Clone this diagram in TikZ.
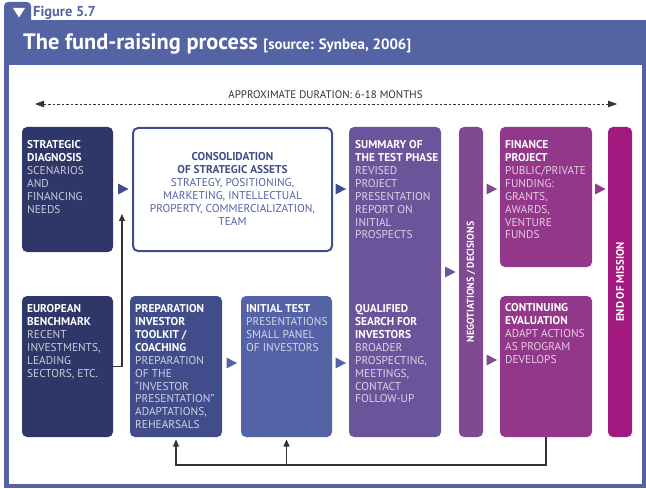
\documentclass[tikz,border=0pt]{standalone}
\usepackage{fontspec}
\setmainfont{PT Sans}
\usetikzlibrary{arrows.meta,calc}
\definecolor{hdr}{RGB}{84,99,164}
\definecolor{navy}{RGB}{47,54,104}
\definecolor{bluemid}{RGB}{65,76,138}
\definecolor{bluelt}{RGB}{84,98,166}
\definecolor{violet}{RGB}{107,84,153}
\definecolor{plum}{RGB}{128,73,146}
\definecolor{orchid}{RGB}{147,55,138}
\definecolor{magentab}{RGB}{162,25,127}
\definecolor{linegray}{RGB}{51,51,51}
\newcommand\hd[1]{\textcolor{white}{\textbf{#1}}}
\newcommand\rtri[2]{\fill[#2] ($(#1)+(-5,-5.5)$) -- ($(#1)+(5.5,0)$) -- ($(#1)+(-5,5.5)$) -- cycle;}
\begin{document}
\begin{tikzpicture}[x=1bp,y=-1bp,
  card/.style={rounded corners=5bp, inner sep=0pt, outer sep=0pt, anchor=north west},
  txt/.style={inner sep=0pt, anchor=north west, align=left, font=\fontsize{11.4}{13}\selectfont},
  fb/.style={draw=linegray, line width=1.1bp, -{Triangle[length=7bp,width=6bp]}},
  vtxt/.style={rotate=90, inner sep=0pt, text=white, font=\fontsize{10}{10}\selectfont\bfseries}
]
\useasboundingbox (0,0) rectangle (646,489);
% frame
\fill[hdr] (4,20) rectangle (646,488);
\fill[white] (9,65) rectangle (642,484);
\fill[hdr, rounded corners=4bp] (4,28) -- (4,2) -- (31,2) -- (31,28) -- cycle;
\fill[white] (13,8) -- (25,8) -- (19,17.5) -- cycle;
\node[anchor=base west, inner sep=0pt, text=hdr, font=\fontsize{14.5}{14.5}\selectfont\bfseries] (fig) at (33,17) {Figure 5.7};
\node[anchor=base west, inner sep=0pt, text=white, font=\fontsize{22.4}{22.4}\selectfont\bfseries] (title) at (23,50) {The fund-raising process {\fontsize{15}{15}\selectfont [source: Synbea, 2006]}};
% duration
\node[anchor=base, inner sep=0pt, text=linegray, font=\fontsize{11}{12}\selectfont] (dur) at (325.5,99) {APPROXIMATE DURATION: 6-18 MONTHS};
\coordinate (dL) at (35,104);
\coordinate (dR) at (617,104);
\draw[linegray, line width=0.8bp, dash pattern=on 2.5bp off 2bp, {Triangle[length=9bp,width=6.5bp]}-{Triangle[length=9bp,width=6.5bp]}] (dL) -- (dR);
% boxes
\node[card, fill=navy, minimum width=91bp, minimum height=125bp] (sd) at (22,127) {};
\node[card, fill=white, draw=bluemid, line width=2bp, minimum width=199bp, minimum height=123bp] (cons) at (133,128) {};
\node[card, fill=violet, minimum width=92bp, minimum height=310bp] (sum) at (349,127) {};
\node[card, fill=plum, minimum width=24bp, minimum height=310bp] (neg) at (459,127) {};
\node[card, fill=orchid, minimum width=92bp, minimum height=140bp] (fin) at (500,127) {};
\node[card, fill=magentab, minimum width=24bp, minimum height=310bp] (end) at (608,127) {};
\node[card, fill=navy, minimum width=91bp, minimum height=141bp] (eu) at (22,296) {};
\node[card, fill=bluemid, minimum width=92bp, minimum height=141bp] (prep) at (130,296) {};
\node[card, fill=bluelt, minimum width=91bp, minimum height=141bp] (init) at (241,296) {};
\node[card, fill=orchid, minimum width=92bp, minimum height=141bp] (cont) at (500,296) {};
% texts
\node[txt, text=white!75!navy] (sdT) at (27,140) {\hd{STRATEGIC}\\\hd{DIAGNOSIS}\\SCENARIOS\\AND\\FINANCING\\NEEDS};
\node[txt, anchor=north, align=center, text=bluelt] (consT) at (232.5,152) {\textcolor{bluemid}{\textbf{CONSOLIDATION}}\\\textcolor{bluemid}{\textbf{OF STRATEGIC ASSETS}}\\STRATEGY, POSITIONING,\\MARKETING, INTELLECTUAL\\PROPERTY, COMMERCIALIZATION,\\TEAM};
\node[txt, text=white!75!violet] (sumT) at (355,140) {\hd{SUMMARY OF}\\\hd{THE TEST PHASE}\\REVISED\\PROJECT\\PRESENTATION\\REPORT ON\\INITIAL\\PROSPECTS};
\node[txt, text=white!75!violet] (qualT) at (355,304) {\hd{QUALIFIED}\\\hd{SEARCH FOR}\\\hd{INVESTORS}\\BROADER\\PROSPECTING,\\MEETINGS,\\CONTACT\\FOLLOW-UP};
\node[txt, text=white!75!orchid] (finT) at (505,140) {\hd{FINANCE}\\\hd{PROJECT}\\PUBLIC/PRIVATE\\FUNDING:\\GRANTS,\\AWARDS,\\VENTURE\\FUNDS};
\node[txt, text=white!75!navy] (euT) at (27,304) {\hd{EUROPEAN}\\\hd{BENCHMARK}\\RECENT\\INVESTMENTS,\\LEADING\\SECTORS, ETC.};
\node[txt, text=white!75!bluemid] (prepT) at (135,304) {\hd{PREPARATION}\\\hd{INVESTOR}\\\hd{TOOLKIT /}\\\hd{COACHING}\\PREPARATION\\OF THE\\``INVESTOR\\PRESENTATION''\\ADAPTATIONS,\\REHEARSALS};
\node[txt, text=white!75!bluelt] (initT) at (246,304) {\hd{INITIAL TEST}\\PRESENTATIONS\\SMALL PANEL\\OF INVESTORS};
\node[txt, text=white!75!orchid] (contT) at (505,303) {\hd{CONTINUING}\\\hd{EVALUATION}\\ADAPT ACTIONS\\AS PROGRAM\\DEVELOPS};
\node[vtxt] (negT) at (neg.center) {NEGOTIATIONS / DECISIONS};
\node[vtxt, font=\fontsize{11}{11}\selectfont\bfseries] (endT) at (end.center) {END OF MISSION};
% triangles
\coordinate (rA) at (0,189);
\coordinate (rB) at (0,363);
\coordinate (rC) at (0,272);
\coordinate (rD) at (0,360);
\path (sd.east |- rA) -- (cons.west |- rA) coordinate[midway] (t1);
\path (cons.east |- rA) -- (sum.west |- rA) coordinate[midway] (t2);
\path (neg.east |- rA) -- (fin.west |- rA) coordinate[midway] (t3);
\path (fin.east |- rA) -- (end.west |- rA) coordinate[midway] (t4);
\path (sum.east |- rC) -- (neg.west |- rC) coordinate[midway] (t5);
\path (prep.east |- rB) -- (init.west |- rB) coordinate[midway] (t6);
\path (init.east |- rB) -- (sum.west |- rB) coordinate[midway] (t7);
\path (neg.east |- rD) -- (cont.west |- rD) coordinate[midway] (t8);
\rtri{t1}{bluemid}
\rtri{t2}{bluemid}
\rtri{t3}{plum}
\rtri{t4}{orchid}
\rtri{t5}{violet}
\rtri{t6}{bluelt}
\rtri{t7}{bluelt}
\rtri{t8}{plum}
% feedback lines
\coordinate (fbc) at ($(cont.south)+(0,28)$);
\draw[fb, shorten >=2.5bp] (cont.south) -- (fbc) -| (prep.south);
\draw[fb, shorten >=2.5bp] (fbc -| init.south) -- (init.south);
\coordinate (up) at (122,214);
\draw[fb] (eu.east) -| (up);
\end{tikzpicture}
\end{document}
